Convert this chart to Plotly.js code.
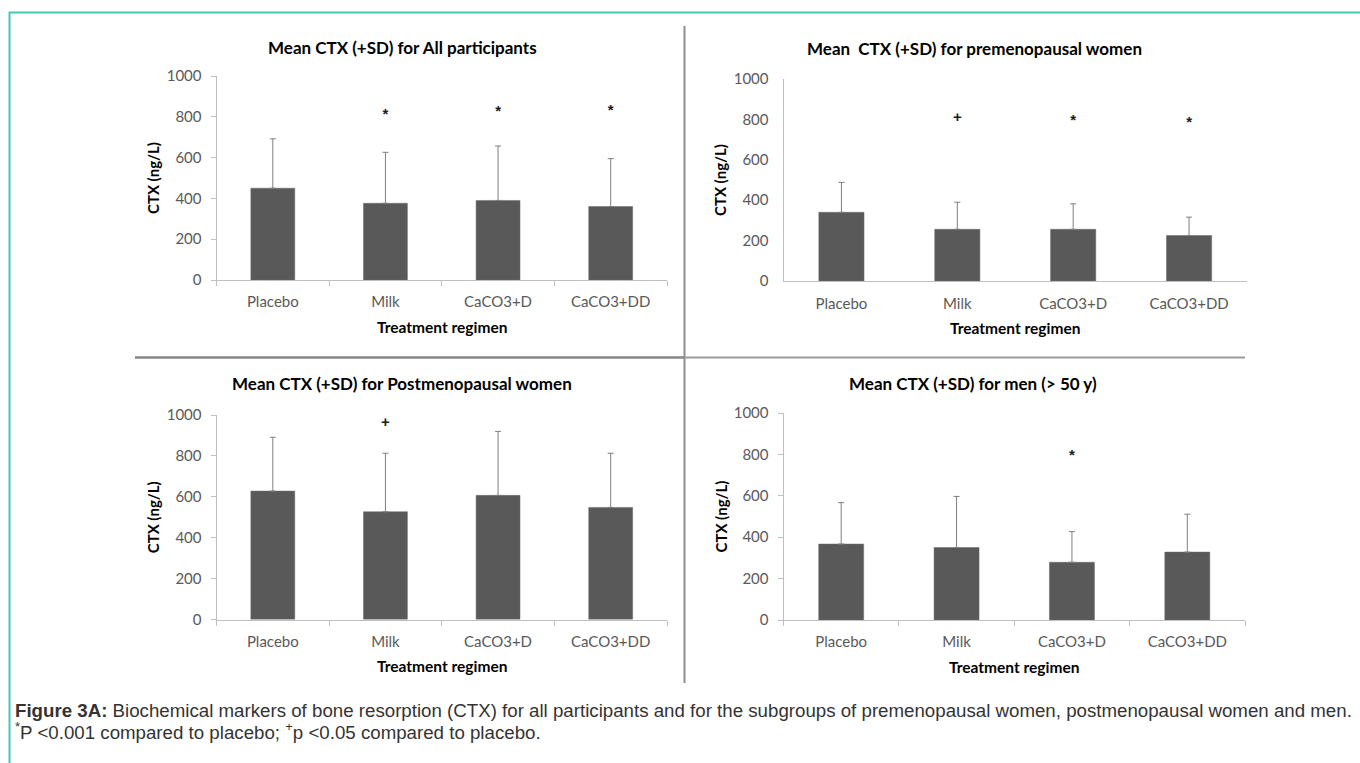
<!DOCTYPE html>
<html>
<head>
<meta charset="utf-8">
<script src="https://cdn.plot.ly/plotly-3.0.1.min.js"></script>
<style>
html,body{margin:0;padding:0;background:#fff;}
#chart{width:1360px;height:763px;}
</style>
</head>
<body>
<div id="chart"></div>
<script>
// ---- data ----
const categories = ["Placebo", "Milk", "CaCO3+D", "CaCO3+DD"];

const allMean  = [450, 376, 390, 360];
const allSD    = [242, 250, 267, 235];
const allSig   = ["", "*", "*", "*"];
const allSigY  = [null, 808, 823, 829];

const preMean  = [340, 256, 256, 225];
const preSD    = [148, 134, 126, 91];
const preSig   = ["", "+", "*", "*"];
const preSigY  = [null, 806, 793, 782];

const postMean = [628, 527, 607, 548];
const postSD   = [263, 286, 313, 265];
const postSig  = ["", "+", "", ""];
const postSigY = [null, 959, null, null];

const menMean  = [367, 350, 279, 328];
const menSD    = [200, 247, 148, 183];
const menSig   = ["", "", "*", ""];
const menSigY  = [null, null, 793, null];

const yTickVals = [0, 200, 400, 600, 800, 1000];

const panelTitles = [
  "Mean CTX (+SD) for All participants",
  "Mean\u00a0 CTX (+SD) for premenopausal women",
  "Mean CTX (+SD) for Postmenopausal women",
  "Mean CTX (+SD) for men (&gt; 50 y)"
];
const xTitle = "Treatment regimen";
const yTitle = "CTX (ng/L)";
const captionLine1 = "<b>Figure 3A:</b> Biochemical markers of bone resorption (CTX) for all participants and for the subgroups of premenopausal women, postmenopausal women and men.";
const captionLine2 = "<sup>*</sup>P &lt;0.001 compared to placebo; <sup>+</sup>p &lt;0.05 compared to placebo.";

// ---- layout geometry (pixels) ----
const W = 1360, H = 763;
const px = v => v / W;
const py = v => 1 - v / H;

const panels = [
  {mean: allMean,  sd: allSD,  sig: allSig,  sigY: allSigY,  x0: 216.5, x1: 667,  yTop: 76,  yBot: 280,  ticks: true,  titleX: 402, titleY: 47,  xtY: 327, ytX: 153},
  {mean: preMean,  sd: preSD,  sig: preSig,  sigY: preSigY,  x0: 783.5, x1: 1247, yTop: 79,  yBot: 281,  ticks: false, titleX: 974, titleY: 48,  xtY: 328, ytX: 720},
  {mean: postMean, sd: postSD, sig: postSig, sigY: postSigY, x0: 216.5, x1: 667,  yTop: 415, yBot: 619.5,ticks: true,  titleX: 402, titleY: 384, xtY: 666, ytX: 153},
  {mean: menMean,  sd: menSD,  sig: menSig,  sigY: menSigY,  x0: 783.5, x1: 1245, yTop: 413, yBot: 620,  ticks: true,  titleX: 973, titleY: 383, xtY: 667, ytX: 720}
];

const FONT = "Lato, 'Open Sans', sans-serif";
const axisColor = "#bfbfbf";
const tickTextColor = "#595959";

const data = [];
const layout = {
  width: W, height: H,
  margin: {l: 0, r: 0, t: 0, b: 0},
  paper_bgcolor: "#ffffff",
  plot_bgcolor: "rgba(0,0,0,0)",
  showlegend: false,
  bargap: 0.61,
  font: {family: FONT, color: "#000"},
  annotations: [],
  shapes: []
};

panels.forEach((p, i) => {
  const n = i === 0 ? "" : String(i + 1);
  const xa = "x" + n, ya = "y" + n;
  data.push({
    type: "bar",
    x: categories,
    y: p.mean,
    xaxis: xa, yaxis: ya,
    marker: {color: "#595959", line: {color: "#6b6b6b", width: 0.5}},
    error_y: {type: "data", symmetric: false, array: p.sd, arrayminus: p.sd.map(() => 0),
              color: "#7f7f7f", thickness: 1, width: 3},
    hoverinfo: "skip"
  });
  // significance markers: only the categories that carry one
  const idx = p.sig.map((s, k) => s ? k : -1).filter(k => k >= 0);
  data.push({
    type: "scatter",
    mode: "text",
    x: idx.map(k => categories[k]),
    y: idx.map(k => p.sigY[k]),
    text: idx.map(k => p.sig[k]),
    textposition: "middle center",
    textfont: {family: "'Liberation Sans', Arial, sans-serif", size: 15, color: "#1a1a1a", weight: "bold"},
    xaxis: xa, yaxis: ya,
    hoverinfo: "skip",
    cliponaxis: false
  });
  layout["xaxis" + n] = {
    domain: [px(p.x0), px(p.x1)],
    anchor: ya,
    type: "category",
    range: [-0.5, 3.5],
    showline: true, linecolor: axisColor, linewidth: 1,
    ticks: p.ticks ? "outside" : "",
    tickson: "boundaries",
    ticklen: 5, tickcolor: axisColor, tickwidth: 1,
    tickfont: {family: FONT, size: 15, color: tickTextColor},
    ticklabelstandoff: p.ticks ? 8 : 9,
    showgrid: false, zeroline: false, fixedrange: true
  };
  layout["yaxis" + n] = {
    domain: [py(p.yBot), py(p.yTop)],
    anchor: xa,
    range: [0, 1000],
    tickvals: yTickVals,
    showline: true, linecolor: axisColor, linewidth: 1,
    ticks: p.ticks ? "outside" : "",
    ticklen: 5, tickcolor: axisColor, tickwidth: 1,
    tickfont: {family: FONT, size: 15, color: tickTextColor},
    ticklabelstandoff: p.ticks ? 6 : 11,
    showgrid: false, zeroline: false, fixedrange: true
  };
  layout.annotations.push({
    xref: "paper", yref: "paper", x: px(p.titleX), y: py(p.titleY),
    text: "<b>" + panelTitles[i] + "</b>", showarrow: false,
    xanchor: "center", yanchor: "middle",
    font: {family: FONT, size: 17, color: "#000"}
  });
  layout.annotations.push({
    xref: "paper", yref: "paper", x: px((p.x0 + p.x1) / 2), y: py(p.xtY),
    text: "<b>" + xTitle + "</b>", showarrow: false,
    xanchor: "center", yanchor: "middle",
    font: {family: FONT, size: 15.5, color: "#000"}
  });
  layout.annotations.push({
    xref: "paper", yref: "paper", x: px(p.ytX), y: py((p.yTop + p.yBot) / 2),
    text: "<b>" + yTitle + "</b>", showarrow: false, textangle: -90,
    xanchor: "center", yanchor: "middle",
    font: {family: FONT, size: 15, color: "#000"}
  });
});

// caption
layout.annotations.push({
  xref: "paper", yref: "paper", x: px(13), y: py(710),
  text: captionLine1, showarrow: false, xanchor: "left", yanchor: "middle",
  font: {family: "'Liberation Sans', Arial, sans-serif", size: 18.7, color: "#333333"}
});
layout.annotations.push({
  xref: "paper", yref: "paper", x: px(13), y: py(731),
  text: captionLine2, showarrow: false, xanchor: "left", yanchor: "middle",
  font: {family: "'Liberation Sans', Arial, sans-serif", size: 18.7, color: "#333333"}
});

// frame: teal border and grey panel separators
const L = (x0, y0, x1, y1, color, width) => ({
  type: "line", xref: "paper", yref: "paper",
  x0: px(x0), y0: py(y0), x1: px(x1), y1: py(y1),
  line: {color: color, width: width}
});
layout.shapes.push(L(9, 12.5, 1360, 12.5, "#3fc9b2", 2));
layout.shapes.push(L(9.5, 12, 9.5, 763, "#3fc9b2", 2));
layout.shapes.push(L(684.5, 26, 684.5, 683, "#8e8e8e", 2));
layout.shapes.push(L(135, 357.5, 684.5, 357.5, "#868686", 2.5));
layout.shapes.push(L(684.5, 357.5, 1245, 357.5, "#9a9a9a", 2));

Plotly.newPlot("chart", data, layout, {displayModeBar: false, staticPlot: true});
</script>
</body>
</html>
